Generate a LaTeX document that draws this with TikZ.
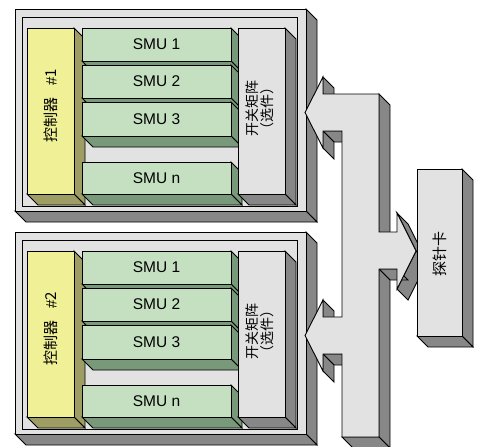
\documentclass[tikz,border=0pt]{standalone}
\usepackage{fontspec}
\setmainfont{Liberation Sans}
\newfontfamily\cjk{Noto Sans CJK SC}
\definecolor{lg}{HTML}{E2E2E2}
\definecolor{dg}{HTML}{878787}
\definecolor{yel}{HTML}{F0F096}
\definecolor{olive}{HTML}{9E9E64}
\definecolor{grn}{HTML}{C4E0C0}
\definecolor{dgrn}{HTML}{789A7A}
% extruded box: x0 y0 x1 y1 front side
\newcommand{\ebox}[6]{%
  \filldraw[fill=#6] (#3,#2) -- (#3+11,#2+11) -- (#3+11,#4+11) -- (#3,#4) -- cycle;
  \filldraw[fill=#6] (#1,#4) -- (#3,#4) -- (#3+11,#4+11) -- (#1+11,#4+11) -- cycle;
  \filldraw[fill=#5] (#1,#2) rectangle (#3,#4);
}
\newcommand{\sideface}[4]{%
  \filldraw[fill=dg] (#1,#2) -- (#3,#4) -- (#3+11,#4+11) -- (#1+11,#2+11) -- cycle;
}
\newcommand{\chassis}[3]{%
  \ebox{15}{9+#1}{306}{211+#1}{lg}{dg}
  \draw (22,17+#1) rectangle (297,206+#1);
  \ebox{27}{28+#1}{74}{194+#1}{yel}{olive}
  \ebox{82}{28+#1}{231}{61+#1}{grn}{dgrn}
  \ebox{82}{65+#1}{231}{98+#1}{grn}{dgrn}
  \ebox{82}{102+#1}{231}{136+#1}{grn}{dgrn}
  \ebox{82}{162+#1}{231}{194+#1}{grn}{dgrn}
  \ebox{238}{28+#1}{285}{194+#1}{lg}{dg}
  \node[cjklbl,rotate=90] (ctrl#2) at (51,106+#1) {控制器\hspace{12pt}{\rmfamily\#}#3};
  \node[lbl] (smua#2) at (156.5,44.5+#1) {SMU 1};
  \node[lbl] (smub#2) at (156.5,81.5+#1) {SMU 2};
  \node[lbl] (smuc#2) at (156.5,119+#1) {SMU 3};
  \node[lbl] (smun#2) at (156.5,178+#1) {SMU n};
  \node[swlbl,rotate=90] (sw#2) at (260,108+#1) {开关矩阵\\（选件）};
}
\begin{document}
\begin{tikzpicture}[x=1pt,y=-1pt,line width=0.9pt,line join=miter,
  lbl/.style={font=\fontsize{15.5}{18}\selectfont,inner sep=0pt},
  cjklbl/.style={font=\cjk\fontsize{15}{18}\selectfont,inner sep=0pt},
  swlbl/.style={font=\cjk\fontsize{14}{15.5}\selectfont,inner sep=0pt,align=center}]
\useasboundingbox (0,0) rectangle (482,447);
\chassis{0}{1}{1}
\chassis{223}{2}{2}
% arrow side faces
\sideface{323}{77}{323}{94}
\sideface{379}{94}{379}{232}
\sideface{397}{213}{416}{251}
\sideface{416}{251}{397}{289}
\sideface{397}{269}{379}{269}
\sideface{379}{269}{379}{437}
\sideface{379}{437}{342}{437}
\sideface{342}{354}{323}{354}
\sideface{323}{354}{323}{371}
\sideface{323}{300}{323}{317}
\sideface{342}{131}{323}{131}
\sideface{323}{131}{323}{148}
% arrow front face
\filldraw[fill=lg] (305,112.5) -- (323,77) -- (323,94) -- (379,94) -- (379,232)
  -- (397,232) -- (397,213) -- (416,251) -- (397,289) -- (397,269) -- (379,269)
  -- (379,437) -- (342,437) -- (342,354) -- (323,354) -- (323,371) -- (305,335.5)
  -- (323,300) -- (323,317) -- (342,317) -- (342,131) -- (323,131) -- (323,148) -- cycle;
% probe card
\ebox{417}{169}{462}{336}{lg}{dg}
\node[cjklbl,rotate=90] (probe) at (440,254) {探针卡};
\end{tikzpicture}
\end{document}
